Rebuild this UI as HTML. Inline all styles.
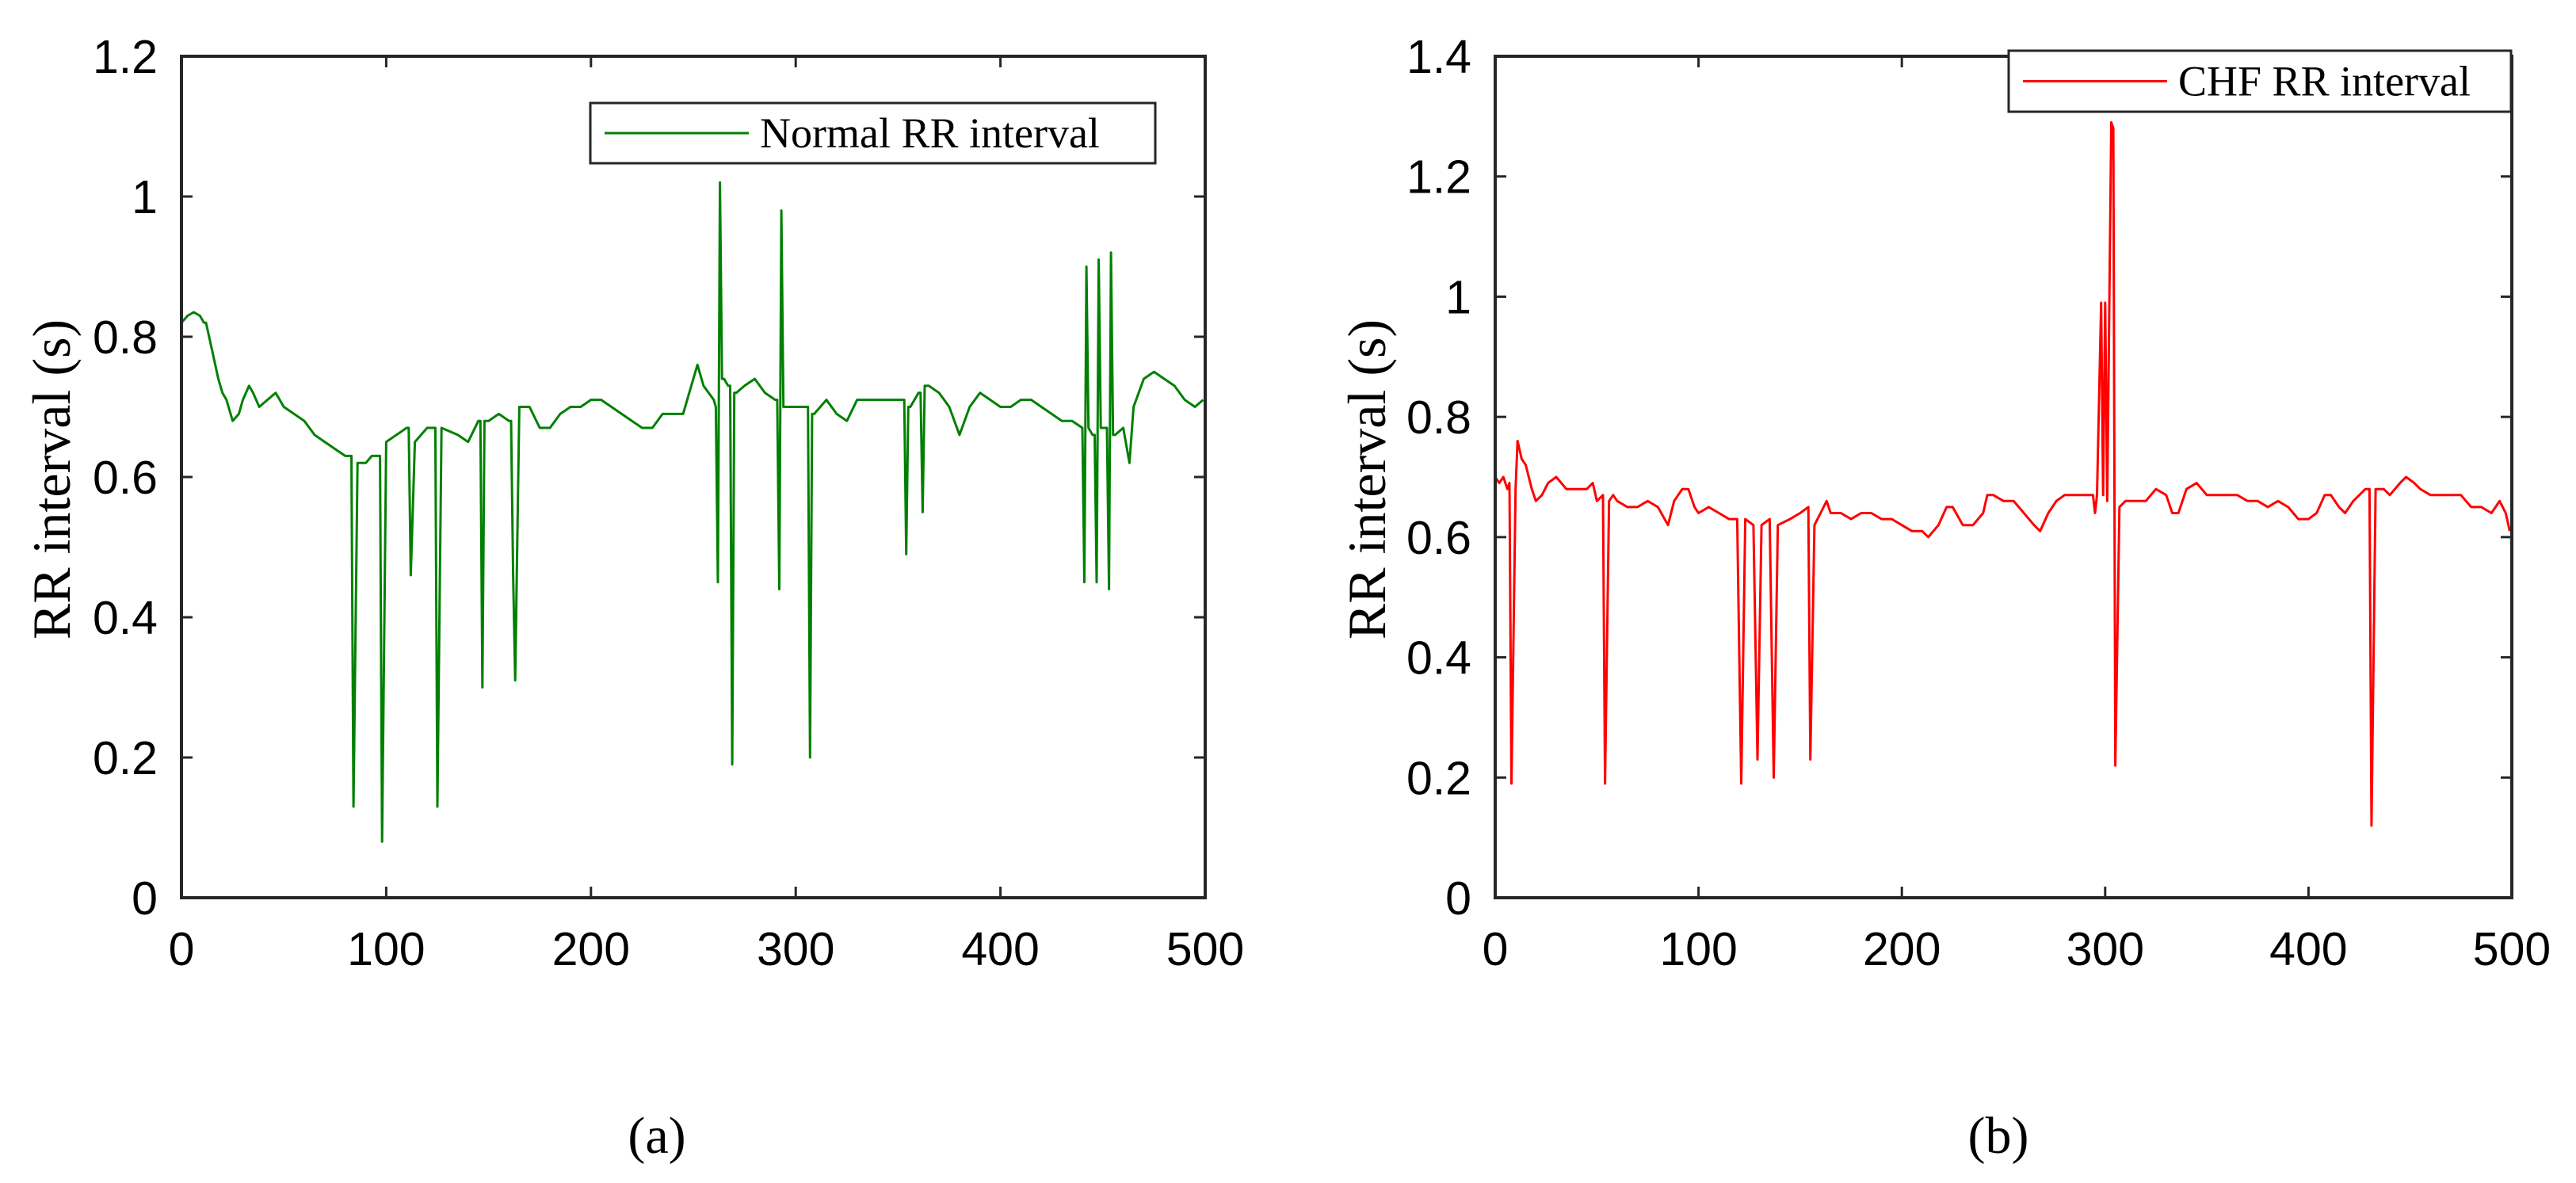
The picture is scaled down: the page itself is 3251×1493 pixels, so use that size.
<!DOCTYPE html>
<html><head><meta charset="utf-8"><style>
html,body{margin:0;padding:0;background:#fff;}
svg{display:block;}
</style></head><body>
<svg id="fig" width="3251" height="1493" viewBox="0 0 3251 1493" xmlns="http://www.w3.org/2000/svg"></svg>
<script>
const normalX=[0,3,6,9,11,12,15,18,20,22,25,28,30,33,35,38,42,46,50,55,60,65,70,75,80,83,84,86,90,93,97,98,100,105,110,111,112,114,120,124,125,127,135,140,145,146,147,148,150,155,160,161,162,163,165,170,175,180,185,190,195,200,205,210,215,220,225,230,235,240,245,250,252,255,260,261,262,263,264,265,267,268,269,270,271,275,280,285,290,291,292,293,294,295,300,305,306,307,308,309,315,320,325,330,335,340,345,350,353,354,355,356,360,361,362,363,365,370,375,380,385,390,395,400,405,410,415,420,425,430,435,440,441,442,443,445,446,447,448,449,450,452,453,454,455,456,460,463,465,470,475,480,485,490,495,499];
const normalY=[0.82,0.83,0.835,0.83,0.82,0.82,0.78,0.74,0.72,0.71,0.68,0.69,0.71,0.73,0.72,0.70,0.71,0.72,0.70,0.69,0.68,0.66,0.65,0.64,0.63,0.63,0.13,0.62,0.62,0.63,0.63,0.08,0.65,0.66,0.67,0.67,0.46,0.65,0.67,0.67,0.13,0.67,0.66,0.65,0.68,0.68,0.30,0.68,0.68,0.69,0.68,0.68,0.46,0.31,0.70,0.70,0.67,0.67,0.69,0.70,0.70,0.71,0.71,0.70,0.69,0.68,0.67,0.67,0.69,0.69,0.69,0.74,0.76,0.73,0.71,0.70,0.45,1.02,0.74,0.74,0.73,0.73,0.19,0.72,0.72,0.73,0.74,0.72,0.71,0.71,0.44,0.98,0.70,0.70,0.70,0.70,0.70,0.20,0.69,0.69,0.71,0.69,0.68,0.71,0.71,0.71,0.71,0.71,0.71,0.49,0.70,0.70,0.72,0.72,0.55,0.73,0.73,0.72,0.70,0.66,0.70,0.72,0.71,0.70,0.70,0.71,0.71,0.70,0.69,0.68,0.68,0.67,0.45,0.90,0.67,0.66,0.66,0.45,0.91,0.67,0.67,0.67,0.44,0.92,0.66,0.66,0.67,0.62,0.70,0.74,0.75,0.74,0.73,0.71,0.70,0.71];
const chfX=[0,2,4,6,7,8,10,11,13,15,18,20,23,26,30,35,40,45,48,50,53,54,56,58,60,65,70,75,80,85,88,92,95,98,100,105,110,115,119,121,123,127,129,131,135,137,139,145,150,154,155,157,160,163,165,170,175,180,185,190,195,200,205,210,213,218,222,225,230,235,240,242,245,250,255,260,265,268,272,276,280,285,290,294,295,296,298,299,300,301,302,303,304,305,307,310,315,320,325,330,333,336,340,345,350,355,360,365,370,375,380,385,390,395,400,404,408,411,415,418,422,428,430,431,433,437,440,445,448,452,455,460,465,470,475,480,485,490,494,497,499];
const chfY=[0.70,0.69,0.70,0.68,0.69,0.19,0.68,0.76,0.73,0.72,0.68,0.66,0.67,0.69,0.70,0.68,0.68,0.68,0.69,0.66,0.67,0.19,0.66,0.67,0.66,0.65,0.65,0.66,0.65,0.62,0.66,0.68,0.68,0.65,0.64,0.65,0.64,0.63,0.63,0.19,0.63,0.62,0.23,0.62,0.63,0.20,0.62,0.63,0.64,0.65,0.23,0.62,0.64,0.66,0.64,0.64,0.63,0.64,0.64,0.63,0.63,0.62,0.61,0.61,0.60,0.62,0.65,0.65,0.62,0.62,0.64,0.67,0.67,0.66,0.66,0.64,0.62,0.61,0.64,0.66,0.67,0.67,0.67,0.67,0.64,0.67,0.99,0.67,0.99,0.66,0.97,1.29,1.28,0.22,0.65,0.66,0.66,0.66,0.68,0.67,0.64,0.64,0.68,0.69,0.67,0.67,0.67,0.67,0.66,0.66,0.65,0.66,0.65,0.63,0.63,0.64,0.67,0.67,0.65,0.64,0.66,0.68,0.68,0.12,0.68,0.68,0.67,0.69,0.70,0.69,0.68,0.67,0.67,0.67,0.67,0.65,0.65,0.64,0.66,0.64,0.61];
const xTicks=[0,100,200,300,400,500];
const yTicksA=[0,0.2,0.4,0.6,0.8,1,1.2];
const yTicksB=[0,0.2,0.4,0.6,0.8,1,1.2,1.4];

const NS='http://www.w3.org/2000/svg';
const svg=document.getElementById('fig');
function mk(tag,attrs,parent){const e=document.createElementNS(NS,tag);for(const k in attrs)e.setAttribute(k,attrs[k]);(parent||svg).appendChild(e);return e;}

function panel(p){
  const g=mk('g',{});
  
  
  const L=p.left,R=p.right,T=71,B=1133;
  const sx=v=>L+(v-0)/500*(R-L);
  const sy=v=>B-(v/p.ymax)*(B-T);
  // series
  let d='';
  for(let i=0;i<p.xs.length;i++){d+=(i?'L':'M')+sx(p.xs[i]).toFixed(1)+' '+sy(p.ys[i]).toFixed(1);}
  const line=mk('path',{d:d,fill:'none',stroke:p.color,'stroke-width':3,'stroke-linejoin':'round'},g);
  
  
  // axes box
  const box=mk('rect',{x:L,y:T,width:R-L,height:B-T,fill:'none',stroke:'#262626','stroke-width':4},g);
  
  
  // x ticks
  xTicks.forEach(v=>{
    const x=sx(v);
    mk('line',{x1:x,y1:B,x2:x,y2:B-14,stroke:'#262626','stroke-width':3},g);
    mk('line',{x1:x,y1:T,x2:x,y2:T+14,stroke:'#262626','stroke-width':3},g);
    const t=mk('text',{x:x,y:1218,'text-anchor':'middle','font-family':'Liberation Sans, sans-serif','font-size':59,fill:'#000'},g);
    t.textContent=v;
    
    
  });
  p.yt.forEach(v=>{
    const y=sy(v);
    mk('line',{x1:L,y1:y,x2:L+14,y2:y,stroke:'#262626','stroke-width':3},g);
    mk('line',{x1:R,y1:y,x2:R-14,y2:y,stroke:'#262626','stroke-width':3},g);
    const t=mk('text',{x:L-30,y:y+21,'text-anchor':'end','font-family':'Liberation Sans, sans-serif','font-size':59,fill:'#000'},g);
    t.textContent=String(v);
    
    
  });
  const yt=mk('text',{x:0,y:0,transform:'translate('+(p.titleX)+',605) rotate(-90)','text-anchor':'middle','font-family':'Liberation Serif, serif','font-size':68,fill:'#000'},g);
  yt.textContent='RR interval (s)';
  
  
  // legend
  const lg=mk('g',{},g);
  
  
  mk('rect',{x:p.lg[0],y:p.lg[1],width:p.lg[2],height:p.lg[3],fill:'#fff',stroke:'#262626','stroke-width':3},lg);
  const my=p.lg[1]+p.lg[3]/2;
  mk('line',{x1:p.lg[0]+18,y1:my,x2:p.lg[0]+200,y2:my,stroke:p.color,'stroke-width':3},lg);
  const lt=mk('text',{x:p.lg[0]+214,y:my+18,'font-family':'Liberation Serif, serif','font-size':54,fill:'#000'},lg);
  lt.textContent=p.label;
  
  
  const cap=mk('text',{x:p.capX,y:1455,'text-anchor':'middle','font-family':'Liberation Serif, serif','font-size':66,fill:'#000'},g);
  cap.textContent=p.cap;
  
  
}
panel({id:'normal',left:229,right:1521,ymax:1.2,yt:yTicksA,xs:normalX,ys:normalY,color:'#008000',label:'Normal RR interval',lg:[745,130,713,76],titleX:88,capX:829,cap:'(a)'});
panel({id:'chf',left:1887,right:3170,ymax:1.4,yt:yTicksB,xs:chfX,ys:chfY,color:'#ff0000',label:'CHF RR interval',lg:[2535,64,634,77],titleX:1748,capX:2522,cap:'(b)'});
</script>
</body></html>
